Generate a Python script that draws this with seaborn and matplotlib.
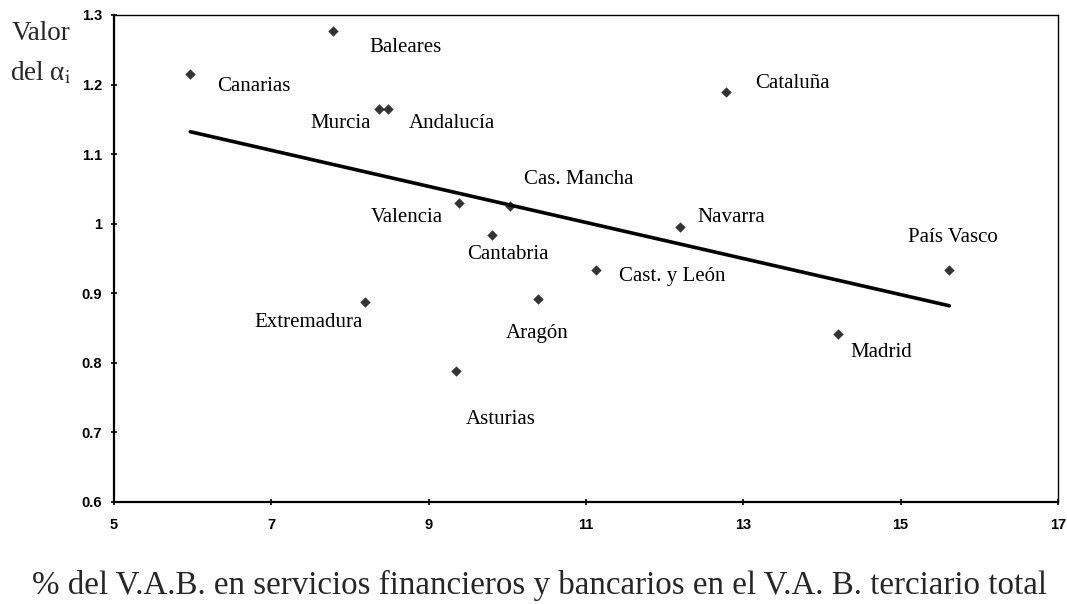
import pandas as pd
import matplotlib.pyplot as plt
import seaborn as sns

# --- data ---
regions = ["Canarias", "Baleares", "Murcia", "Andalucía", "Valencia", "Cantabria",
           "Cas. Mancha", "Navarra", "Cast. y León", "Aragón", "Extremadura",
           "Asturias", "Cataluña", "País Vasco", "Madrid"]
pct_vab = [5.97, 7.78, 8.37, 8.48, 9.39, 9.81, 10.04, 12.20, 11.13, 10.39, 8.19,
           9.35, 12.78, 15.62, 14.20]
alpha_i = [1.215, 1.277, 1.165, 1.165, 1.030, 0.984, 1.026, 0.995, 0.933, 0.892, 0.887,
           0.788, 1.189, 0.933, 0.841]

x_ticks = [5, 7, 9, 11, 13, 15, 17]
y_ticks = [0.6, 0.7, 0.8, 0.9, 1.0, 1.1, 1.2, 1.3]
y_tick_labels = ["0.6", "0.7", "0.8", "0.9", "1", "1.1", "1.2", "1.3"]

# label placement (pixel offsets from the point, alignment)
label_pos = {
    "Canarias":     (27, -12, "left"),
    "Baleares":     (37, -16, "left"),
    "Murcia":       (-8, -15, "right"),
    "Andalucía":    (21, -15, "left"),
    "Valencia":     (-16, -15, "right"),
    "Cantabria":    (15, -20, "center"),
    "Cas. Mancha":  (14, 26, "left"),
    "Navarra":      (17, 10, "left"),
    "Cast. y León": (23, -6, "left"),
    "Aragón":       (-32, -35, "left"),
    "Extremadura":  (-2, -20, "right"),
    "Asturias":     (10, -48, "left"),
    "Cataluña":     (29, 9, "left"),
    "País Vasco":   (-41, 33, "left"),
    "Madrid":       (13, -18, "left"),
}

df = pd.DataFrame({"region": regions, "pct": pct_vab, "alpha": alpha_i})

sns.set_style("ticks")
plt.rcParams["font.family"] = ["Liberation Serif", "DejaVu Serif"]
plt.rcParams["mathtext.fontset"] = "stix"

fig = plt.figure(figsize=(10.67, 6.04), dpi=100)
ax = fig.add_axes([114 / 1067, 1 - 502 / 604, (1058 - 114) / 1067, (502 - 15) / 604])

# scatter + OLS line over the data range
sns.regplot(data=df, x="pct", y="alpha", ax=ax, ci=None, color="black", marker="D",
            scatter_kws={"s": 28, "linewidths": 0, "zorder": 3},
            line_kws={"linewidth": 2.6, "zorder": 2})

for name, x, y in zip(regions, pct_vab, alpha_i):
    dx, dy, ha = label_pos[name]
    ax.annotate(name, (x, y), xytext=(dx, dy), textcoords="offset pixels",
                ha=ha, va="center", fontsize=15, color="black")

ax.set_xlim(5, 17)
ax.set_ylim(0.6, 1.3)
ax.set_xticks(x_ticks)
ax.set_yticks(y_ticks)
ax.set_yticklabels(y_tick_labels)
ax.set_xlabel("")
ax.set_ylabel("")

for lbl in ax.get_xticklabels() + ax.get_yticklabels():
    lbl.set_family(["Liberation Sans", "DejaVu Sans"])
    lbl.set_fontweight("bold")
    lbl.set_fontsize(10.5)
ax.tick_params(axis="both", direction="inout", length=5, width=1.2, colors="black")
ax.tick_params(axis="x", pad=9)
ax.tick_params(axis="y", pad=6)

for side in ["left", "bottom"]:
    ax.spines[side].set_linewidth(1.6)
for side in ["top", "right"]:
    ax.spines[side].set_linewidth(1.0)
for sp in ax.spines.values():
    sp.set_color("black")

fig.text(41 / 1067, 1 - 33 / 604, "Valor", ha="center", va="center", fontsize=19.5)
fig.text(41 / 1067, 1 - 73 / 604, r"del α$_{\mathrm{i}}$", ha="center", va="center", fontsize=19.5)
fig.text(540 / 1067, 1 - 585 / 604,
         "% del V.A.B. en servicios financieros y bancarios en el V.A. B. terciario total",
         ha="center", va="center", fontsize=23.8)

plt.savefig("out.png", dpi=100)
plt.close()
